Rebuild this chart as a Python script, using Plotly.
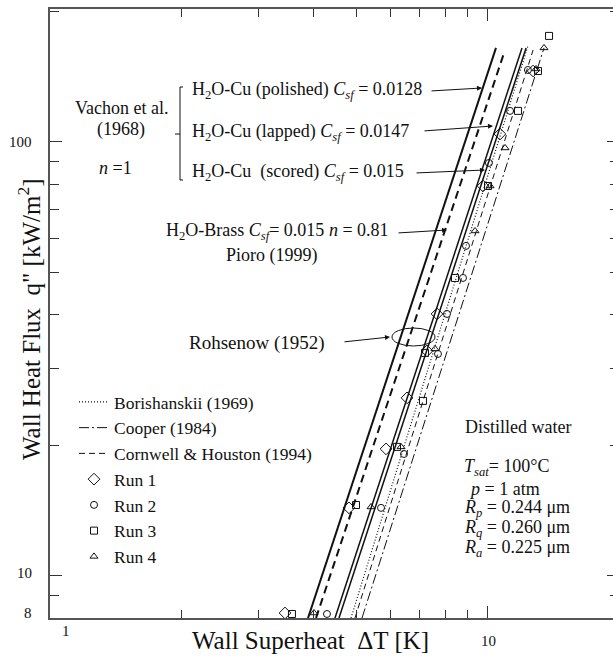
import numpy as np
import plotly.graph_objects as go

# ---------------- data ----------------
# correlation lines: wall superheat dT [K] and heat flux q [kW/m2] at their two ends
polished_dT = [3.885, 10.44]; polished_q = [8.0, 164.7]      # Vachon H2O-Cu polished Csf=0.0128
pioro_dT = [4.052, 10.89];    pioro_q = [8.0, 160.3]         # Pioro H2O-Brass
lapped_dT = [4.477, 11.97];   lapped_q = [8.0, 164.7]        # Vachon lapped Csf=0.0147
scored_dT = [4.572, 12.23];   scored_q = [8.0, 164.7]        # Vachon scored Csf=0.015
borish_dT = [4.870, 12.35];   borish_q = [8.0, 166.4]        # Borishanskii (1969)
cornwell_dT = [4.973, 12.69]; cornwell_q = [8.0, 162.9]      # Cornwell & Houston (1994)
cooper_dT = [5.160, 13.44];   cooper_q = [8.0, 164.7]        # Cooper (1984)

run1_dT = [3.442, 4.819, 5.855, 6.539, 7.262, 7.655, 9.750, 10.66, 12.69]
run1_q = [8.216, 14.35, 19.62, 25.72, 33.00, 40.15, 79.17, 104.3, 145.7]
run2_dT = [4.292, 5.703, 6.436, 7.695, 8.068, 8.777, 8.917, 10.06, 11.24, 12.35]
run2_q = [8.173, 14.35, 19.10, 32.47, 40.15, 48.60, 57.60, 89.46, 117.9, 146.5]
run3_dT = [3.570, 5.000, 6.204, 7.111, 7.187, 8.415, 10.01, 11.72, 13.02, 13.80]
run3_q = [8.173, 14.57, 19.83, 25.31, 32.65, 48.60, 79.17, 117.9, 145.7, 175.5]
run4_dT = [4.009, 5.411, 6.336, 7.575, 9.350, 10.12, 10.95, 12.89, 13.44]
run4_q = [8.216, 14.42, 19.83, 33.36, 62.36, 79.17, 96.87, 147.3, 164.7]

x_tick_major = [10]
x_tick_minor = [2, 3, 4, 5, 6, 7, 8, 9]
y_tick_major = [10, 100]
y_tick_minor = [9, 20, 30, 40, 50, 60, 70, 80, 90, 200]
x_tick_labels = {1: "1", 10: "10"}
y_tick_labels = {8: "8", 10: "10", 100: "100"}

# ---------------- layout geometry ----------------
W, H = 613, 658
L, T, B = 50, 9, 40
PW = W - L
PH = H - T - B
X_DEC = 437.8
Y_DEC = 434.0
x_range = [0.0, PW / X_DEC]
y_range = [np.log10(8), np.log10(8) + PH / Y_DEC]


def px(x):
    return (x - L) / PW


def py(y):
    return (H - B - y) / PH


SERIF = "Liberation Serif, Times New Roman, serif"
INK = "#111111"
FS = 18

fig = go.Figure()


def add_line(xs, ys, width, dash, name, legend=False):
    fig.add_trace(go.Scatter(x=xs, y=ys, mode="lines", name=name,
                             line=dict(color="#111111", width=width, dash=dash),
                             showlegend=legend, hoverinfo="skip"))


add_line(polished_dT, polished_q, 2.0, "solid", "polished")
add_line(pioro_dT, pioro_q, 2.0, "8px,5px", "Pioro")
add_line(lapped_dT, lapped_q, 1.5, "solid", "lapped")
add_line(scored_dT, scored_q, 1.5, "solid", "scored")
add_line(borish_dT, borish_q, 1.2, "1px,2px", "Borishanskii (1969)", True)
add_line(cooper_dT, cooper_q, 1.0, "10px,3px,2px,3px", "Cooper (1984)", True)
add_line(cornwell_dT, cornwell_q, 1.0, "6px,4px", "Cornwell & Houston (1994)", True)


def add_run(xs, ys, symbol, size, name):
    fig.add_trace(go.Scatter(x=xs, y=ys, mode="markers", name=name,
                             marker=dict(symbol=symbol, size=size, color="#111111",
                                         line=dict(width=1, color="#111111")),
                             hoverinfo="skip"))


add_run(run1_dT, run1_q, "diamond-open", 9, "Run 1")
add_run(run2_dT, run2_q, "circle-open", 7, "Run 2")
add_run(run3_dT, run3_q, "square-open", 7, "Run 3")
add_run(run4_dT, run4_q, "triangle-up-open", 7, "Run 4")

# empty trace to activate the right-hand tick axis
fig.add_trace(go.Scatter(x=[], y=[], yaxis="y2", showlegend=False, hoverinfo="skip"))

AX = "#555555"
fig.update_layout(
    width=W, height=H,
    margin=dict(l=L, r=0, t=T, b=B),
    paper_bgcolor="white", plot_bgcolor="white",
    font=dict(family=SERIF, size=FS, color=INK),
    xaxis=dict(type="log", range=x_range, showgrid=False, zeroline=False,
               showline=True, linecolor=AX, linewidth=1.5, mirror="ticks",
               ticks="inside", tickmode="array", tickvals=x_tick_major, ticklen=12,
               tickcolor="#333", tickwidth=1.2, showticklabels=False,
               minor=dict(tickmode="array", tickvals=x_tick_minor, ticks="inside",
                          ticklen=8, tickcolor="#333", tickwidth=1.2, showgrid=False)),
    yaxis=dict(type="log", range=y_range, showgrid=False, zeroline=False,
               showline=True, linecolor=AX, linewidth=1.5, mirror=False,
               ticks="inside", tickmode="array", tickvals=y_tick_major, ticklen=12,
               tickcolor="#333", tickwidth=1.2, showticklabels=False,
               minor=dict(tickmode="array", tickvals=y_tick_minor, ticks="inside",
                          ticklen=9, tickcolor="#333", tickwidth=1.2, showgrid=False)),
    yaxis2=dict(type="log", range=y_range, overlaying="y", side="right",
                showgrid=False, zeroline=False, showline=False,
                ticks="inside", tickmode="array", tickvals=y_tick_major, ticklen=6,
                tickcolor="#333", tickwidth=1.2, showticklabels=False,
                minor=dict(tickmode="array", tickvals=y_tick_minor, ticks="inside",
                           ticklen=3, tickcolor="#333", tickwidth=1.2, showgrid=False)),
    legend=dict(x=px(74), y=py(384), xanchor="left", yanchor="top",
                bgcolor="rgba(0,0,0,0)", font=dict(family=SERIF, size=17.5, color=INK),
                tracegroupgap=0, itemwidth=30),
    showlegend=True,
)

ann = []


def text(x, y, s, size=FS, anchor="left", yanchor="middle", **kw):
    ann.append(dict(x=px(x), y=py(y), xref="paper", yref="paper", text=s,
                    showarrow=False, xanchor=anchor, yanchor=yanchor,
                    font=dict(family=SERIF, size=size, color=INK), **kw))


def arrow(tail, tip):
    ann.append(dict(x=px(tip[0]), y=py(tip[1]), xref="paper", yref="paper", text="",
                    showarrow=True, ax=tail[0] - tip[0], ay=tail[1] - tip[1],
                    arrowhead=2, arrowsize=1.0, arrowwidth=1.0, arrowcolor=INK,
                    standoff=0, startstandoff=0))


# tick labels
x_lab_pos = {1: (66, 631), 10: (488, 641)}
for v, s in x_tick_labels.items():
    text(x_lab_pos[v][0], x_lab_pos[v][1], s, size=15, anchor="center")
y_lab_shift = {8: 5, 10: 3, 100: 0}
for v, s in y_tick_labels.items():
    ann.append(dict(x=px(34), y=np.log10(v), xref="paper", yref="y", text=s,
                    showarrow=False, xanchor="right", yanchor="middle",
                    yshift=y_lab_shift[v],
                    font=dict(family=SERIF, size=15, color=INK)))

# axis titles
text(310, 640, "Wall Superheat\u00a0\u00a0ΔT [K]", size=25, anchor="center")
ann.append(dict(x=px(29), y=py(320), xref="paper", yref="paper",
                text='Wall Heat Flux\u00a0\u00a0q" [kW/m<sup>2</sup>]', textangle=-90,
                showarrow=False, xanchor="center", yanchor="middle",
                font=dict(family=SERIF, size=25, color=INK)))

# Vachon group
text(121, 108, "Vachon et al.", anchor="center")
text(121, 129, "(1968)", anchor="center")
text(115, 168, "<i>n</i> =1", anchor="center")
text(190, 91, "H<sub>2</sub>O-Cu (polished) <i>C<sub>sf</sub></i> = 0.0128")
text(190, 132, "H<sub>2</sub>O-Cu (lapped) <i>C<sub>sf</sub></i> = 0.0147")
text(190, 172, "H<sub>2</sub>O-Cu\u00a0 (scored) <i>C<sub>sf</sub></i> = 0.015")
arrow((430, 91), (482, 88))
arrow((423, 131), (493, 126))
arrow((415, 173), (485, 170))

text(165, 244, "H<sub>2</sub>O-Brass <i>C<sub>sf</sub></i>= 0.015 <i>n</i> = 0.81",
     yanchor="bottom", borderpad=0)
text(272, 244, "Pioro (1999)", anchor="center", yanchor="top", borderpad=0)
arrow((397, 233), (447, 230))

text(187, 343, "Rohsenow (1952)", size=19)
arrow((343, 342), (390, 337))

# conditions block
text(463, 427, "Distilled water")
text(462, 467, "<i>T<sub>sat</sub></i>= 100°C")
text(467, 489, "<i>p</i> = 1 atm")
text(462, 508, "<i>R<sub>p</sub></i> = 0.244 μm")
text(462, 528, "<i>R<sub>q</sub></i> = 0.260 μm")
text(462, 548, "<i>R<sub>a</sub></i> = 0.225 μm")

fig.update_layout(annotations=ann)

# bracket and ellipse
bx = 180
path = (f"M {px(bx+3)},{py(87)} L {px(bx)},{py(87)} L {px(bx)},{py(180)} L {px(bx+3)},{py(180)} "
        f"M {px(bx)},{py(134)} L {px(bx-5)},{py(134)}")
fig.add_shape(type="path", path=path, xref="paper", yref="paper",
              line=dict(color=INK, width=1))
fig.add_shape(type="circle", xref="paper", yref="paper",
              x0=px(392), x1=px(435), y0=py(346), y1=py(328),
              line=dict(color=INK, width=1))

fig.write_html("out.html")
